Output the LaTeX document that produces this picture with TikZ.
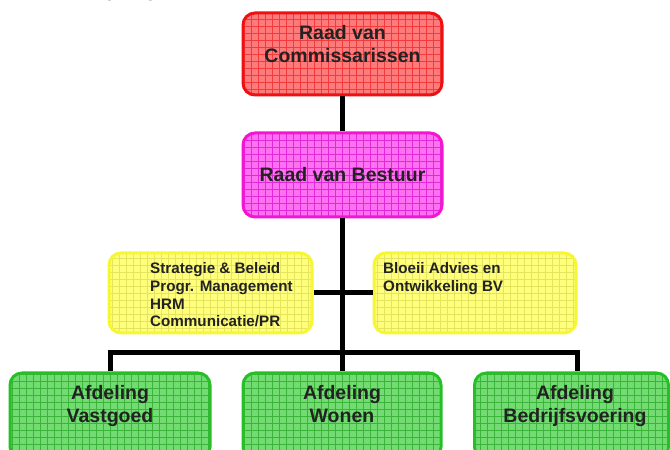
\documentclass[tikz,border=0pt]{standalone}
\usepackage{fontspec}
\setmainfont{Liberation Sans}
\definecolor{redfill}{HTML}{FF7A7A}
\definecolor{redgrid}{HTML}{F03C3C}
\definecolor{redline}{HTML}{EE1111}
\definecolor{magfill}{HTML}{FF70F2}
\definecolor{maggrid}{HTML}{E02AD8}
\definecolor{magline}{HTML}{F414D2}
\definecolor{yelfill}{HTML}{FFFF7C}
\definecolor{yelgrid}{HTML}{E4E45E}
\definecolor{yelline}{HTML}{F6F632}
\definecolor{grnfill}{HTML}{72DC72}
\definecolor{grngrid}{HTML}{3CB43C}
\definecolor{grnline}{HTML}{26C026}
\definecolor{txt}{HTML}{222222}
\begin{document}
\begin{tikzpicture}[x=1pt,y=1pt,
  box/.style={line width=3pt, rounded corners=12pt, inner sep=0pt},
  gridfill/.style={path picture={\draw[#1, line width=0.6pt, step=7pt]
    ([shift={(-7,-7)}]path picture bounding box.south west) grid
    ([shift={(7,7)}]path picture bounding box.north east);}},
  redbox/.style={box, draw=redline, fill=redfill, gridfill=redgrid},
  magbox/.style={box, draw=magline, fill=magfill, gridfill=maggrid},
  yelbox/.style={box, draw=yelline, fill=yelfill, gridfill=yelgrid},
  grnbox/.style={box, draw=grnline, fill=grnfill, gridfill=grngrid},
  bigtext/.style={inner sep=0pt, align=center, text=txt,
    font=\bfseries\fontsize{19.5}{23.3}\selectfont},
  smalltext/.style={inner sep=0pt, align=left, text=txt,
    font=\bfseries\fontsize{15.2}{17.7}\selectfont},
  conn/.style={line width=5pt, black}]
\useasboundingbox (0,0) rectangle (670,450);
% cropped title at the top edge
\node[anchor=base west, inner sep=0pt, font=\bfseries\fontsize{20}{24}\selectfont] (title) at (80,453) {Organigram};
% boxes
\node[redbox, minimum width=199, minimum height=82] (rvc) at (342.5,396) {};
\node[magbox, minimum width=199, minimum height=84] (rvb) at (342.5,275) {};
\node[yelbox, minimum width=203, minimum height=80] (yl) at (210.5,157) {};
\node[yelbox, minimum width=202, minimum height=80] (yr) at (475,157) {};
\node[grnbox, minimum width=200, minimum height=86] (gl) at (110,34) {};
\node[grnbox, minimum width=198, minimum height=86] (gm) at (342,34) {};
\node[grnbox, minimum width=194, minimum height=86] (gr) at (571.5,34) {};
% texts
\node[bigtext, anchor=north] (rvct) at (342.5,425) {Raad van\\Commissarissen};
\node[bigtext] (rvbt) at (342.5,275) {Raad van Bestuur};
\node[smalltext, anchor=north west] (ylt) at (150,187.5) {Strategie \& Beleid\\Progr. Management\\HRM\\Communicatie/PR};
\node[smalltext, anchor=north west] (yrt) at (383,187.5) {Bloeii Advies en\\Ontwikkeling BV};
\node[bigtext, anchor=north] (glt) at (110,65) {Afdeling\\Vastgoed};
\node[bigtext, anchor=north] (gmt) at (342,65) {Afdeling\\Wonen};
\node[bigtext, anchor=north] (grt) at (575,65) {Afdeling\\Bedrijfsvoering};
% connectors
\coordinate (barL) at (110,97);
\coordinate (barR) at (577,97);
\draw[conn] (rvc.south) -- (rvb.north);
\draw[conn] (rvb.south) -- (rvb.south |- barL);
\draw[conn] (yl.east) -- (yr.west);
\draw[conn] (gl.north) -- (barL) -- (barR) -- (barR |- gr.north);
\draw[conn] (gm.north) -- (gm.north |- barL);
\end{tikzpicture}
\end{document}
